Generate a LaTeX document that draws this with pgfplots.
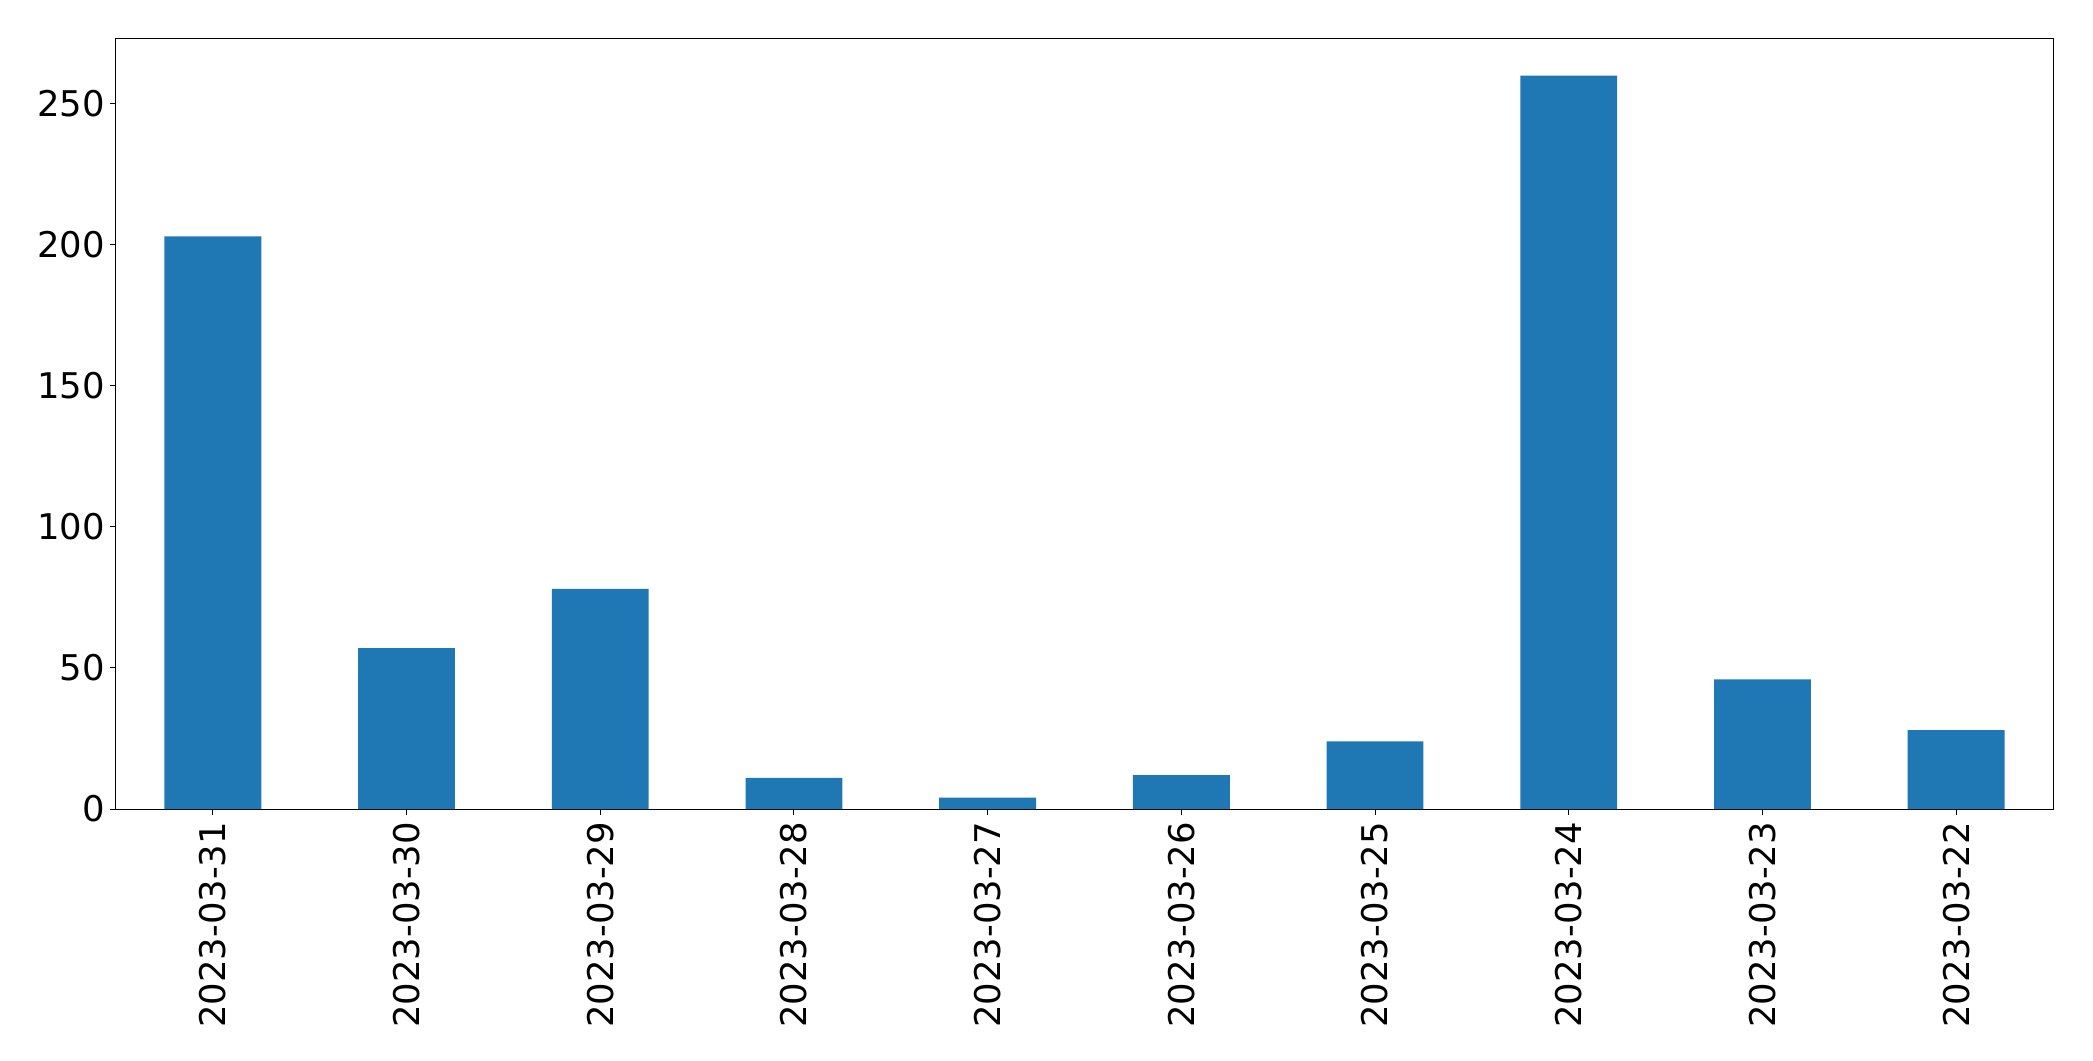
\documentclass[border=0pt]{standalone}
\usepackage{pgfplots}
\pgfplotsset{compat=1.18}
\usepackage{fontspec}
\setmainfont{DejaVu Sans}
\definecolor{tabblue}{HTML}{1F77B4}
\begin{document}
\begin{tikzpicture}
\begin{axis}[
  name=ax,
  scale only axis,
  width=968.5pt, height=385pt,
  xmin=-0.5, xmax=9.5, ymin=0, ymax=273,
  xtick={0,...,9},
  xticklabels={2023-03-31,2023-03-30,2023-03-29,2023-03-28,2023-03-27,2023-03-26,2023-03-25,2023-03-24,2023-03-23,2023-03-22},
  ytick={0,50,100,150,200,250},
  tick align=outside,
  major tick length=3pt,
  xtick pos=bottom, ytick pos=left,
  tick style={black, line width=0.5pt},
  axis line style={black, line width=0.5pt},
  /pgf/number format/assume math mode=true,
  ticklabel style={font=\fontsize{17.7}{21}\selectfont},
  yticklabel style={xshift=1pt},
  xticklabel style={rotate=90, anchor=east},
]
\addplot[ybar, bar width=0.5, fill=tabblue, draw=none] coordinates {
  (0,203) (1,57) (2,78) (3,11) (4,4) (5,12) (6,24) (7,260) (8,46) (9,28)
};
\end{axis}
\path ([xshift=-58pt,yshift=-126pt]ax.south west) rectangle ([xshift=20pt,yshift=19.5pt]ax.north east);
\end{tikzpicture}
\end{document}
